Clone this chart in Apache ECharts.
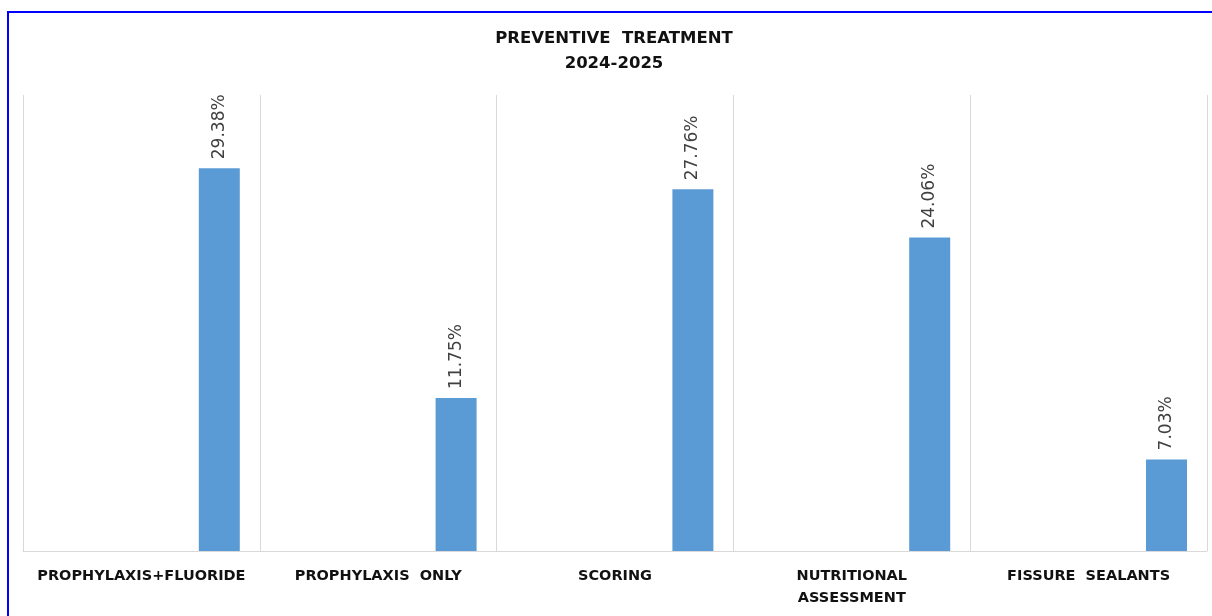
<!DOCTYPE html>
<html>
<head>
<meta charset="utf-8">
<script src="https://cdn.jsdelivr.net/npm/echarts@6/dist/echarts.min.js"></script>
<style>
  html, body { margin: 0; padding: 0; background: #fff; }
  #main { width: 1212px; height: 616px; }
</style>
</head>
<body>
<div id="main"></div>
<script>
// categories and values
var categories = ['PROPHYLAXIS+FLUORIDE', 'PROPHYLAXIS  ONLY', 'SCORING', 'NUTRITIONAL\nASSESSMENT', 'FISSURE  SEALANTS'];
var emptySeries = [null, null, null, null, null];   // blank first series (keeps bars to the right)
var percentValues = [29.38, 11.75, 27.76, 24.06, 7.03];

var chartDom = document.getElementById('main');
var myChart = echarts.init(chartDom);

var option = {
  animation: false,
  title: {
    text: 'PREVENTIVE  TREATMENT\n2024-2025',
    left: 609,
    textAlign: 'center',
    top: 21,
    textStyle: {
      fontFamily: 'DejaVu Sans',
      fontWeight: 'bold',
      fontSize: 16.5,
      lineHeight: 25,
      color: '#111'
    }
  },
  graphic: [
    {
      type: 'rect',
      shape: { x: 8, y: 12, width: 1220, height: 620 },
      style: { fill: 'none', stroke: '#0000ff', lineWidth: 2 }
    }
  ],
  grid: {
    left: 23,
    right: 5,
    top: 95,
    bottom: 65
  },
  xAxis: {
    type: 'category',
    data: categories,
    axisLine: { lineStyle: { color: '#d9d9d9', width: 1 } },
    axisTick: { show: false },
    splitLine: { show: true, lineStyle: { color: '#d9d9d9', width: 1 } },
    axisLabel: {
      interval: 0,
      margin: 14,
      fontFamily: 'DejaVu Sans',
      fontWeight: 'bold',
      fontSize: 14.5,
      lineHeight: 22,
      color: '#111'
    }
  },
  yAxis: {
    type: 'value',
    min: 0,
    max: 35,
    show: false,
    splitLine: { show: false }
  },
  series: [
    {
      name: 'blank',
      type: 'bar',
      data: emptySeries,
      barWidth: 41,
      barGap: '280%'
    },
    {
      name: 'percent',
      type: 'bar',
      data: percentValues,
      barWidth: 41,
      barGap: '280%',
      itemStyle: { color: '#5b9bd5' },
      label: {
        show: true,
        position: 'top',
        rotate: 90,
        align: 'left',
        verticalAlign: 'middle',
        distance: 9,
        fontFamily: 'DejaVu Sans',
        fontSize: 17,
        color: '#404040',
        formatter: function (p) { return p.value.toFixed(2) + '%'; }
      }
    }
  ]
};

myChart.setOption(option);
</script>
</body>
</html>
